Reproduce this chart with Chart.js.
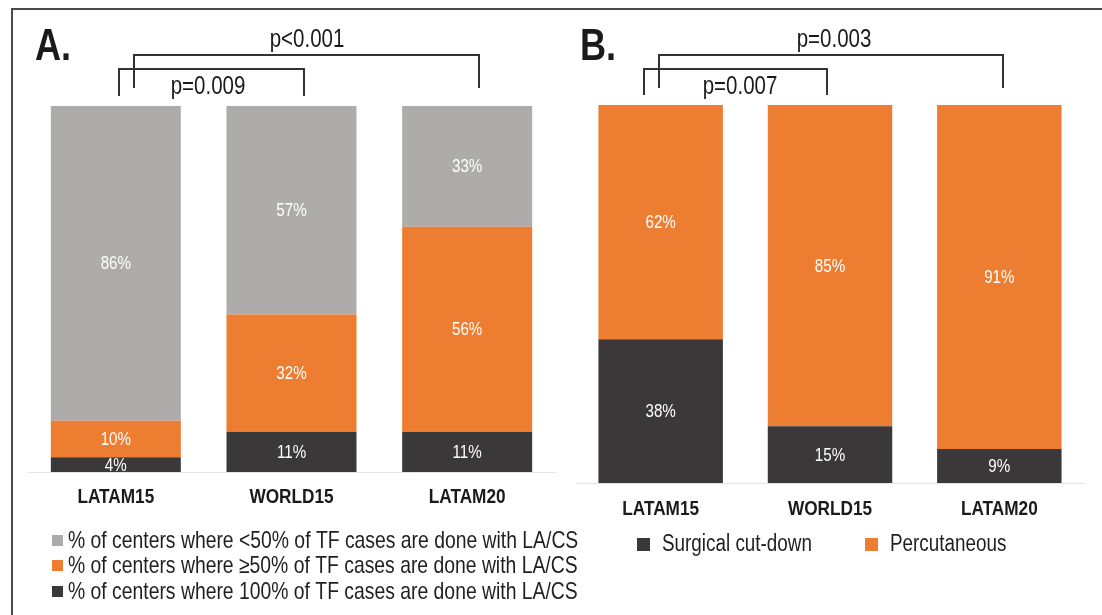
<!DOCTYPE html>
<html>
<head>
<meta charset="utf-8">
<script src="https://cdn.jsdelivr.net/npm/chart.js@4/dist/chart.umd.min.js"></script>
<style>
  body { margin: 0; background: #fff; }
  #wrap { position: relative; width: 1102px; height: 615px; overflow: hidden; }
  #frame { position: absolute; left: 11px; top: 8px; width: 1100px; height: 620px;
           border-top: 2px solid #4a4a4a; border-left: 2px solid #4a4a4a; }
  canvas { position: absolute; top: 0; }
  #chartA { left: 0; }
  #chartB { left: 560px; }
</style>
</head>
<body>
<div id="wrap">
  <div id="frame"></div>
  <canvas id="chartA" width="600" height="615"></canvas>
  <canvas id="chartB" width="542" height="615"></canvas>
</div>
<script>
// data
let Categories = ['LATAM15', 'WORLD15', 'LATAM20']

let LabelsA = [
    '% of centers where 100% of TF cases are done with LA/CS',
    '% of centers where \u226550% of TF cases are done with LA/CS',
    '% of centers where <50% of TF cases are done with LA/CS'
]
let FullLACS = [4, 11, 11]
let HalfLACS = [10, 32, 56]
let LessLACS = [86, 57, 33]
let PValuesA = ['p=0.009', 'p<0.001']

let LabelsB = ['Surgical cut-down', 'Percutaneous']
let Surgical = [38, 15, 9]
let Percutaneous = [62, 85, 91]
let PValuesB = ['p=0.007', 'p=0.003']

let Gray = '#aeabab'
let Orange = '#ed7d31'
let Dark = '#3a3838'
let Font = "'Liberation Sans', Arial, sans-serif"

// no narrow face installed, so squeeze Liberation Sans horizontally
function NarrowText(ctx, text, x, y, font, align, color) {
    ctx.save()
    ctx.font = font
    ctx.fillStyle = color
    ctx.textAlign = align
    ctx.textBaseline = 'middle'
    ctx.translate(x, y)
    ctx.scale(0.82, 1)
    ctx.fillText(text, 0, 0)
    ctx.restore()
}

// white % labels in the middle of every segment
let SegmentLabels = {
    id: 'segmentLabels',
    afterDatasetsDraw(chart) {
        let ctx = chart.ctx
        chart.data.datasets.forEach((ds, i) => {
            chart.getDatasetMeta(i).data.forEach((bar, j) => {
                NarrowText(ctx, ds.data[j] + '%', bar.x, (bar.y + bar.base) / 2 + 1, '18.5px ' + Font, 'center', '#ffffff')
            })
        })
    }
}

// category names, panel letter, significance brackets and legend
let Decorations = {
    id: 'decorations',
    afterDraw(chart, args, opts) {
        let ctx = chart.ctx
        let x = chart.scales.x
        chart.data.labels.forEach((lab, i) => {
            NarrowText(ctx, lab, x.getPixelForValue(i), opts.tickY, 'bold 21px ' + Font, 'center', '#1a1a1a')
        })

        NarrowText(ctx, opts.title, opts.titleX, opts.titleY, 'bold 44px ' + Font, 'left', '#1a1a1a')

        ctx.save()
        ctx.strokeStyle = '#333333'
        ctx.lineWidth = 2
        for (let b of opts.brackets) {
            let x1 = Math.round(x.getPixelForValue(b.from) + b.dx1)
            let x2 = Math.round(x.getPixelForValue(b.to) + b.dx2)
            ctx.beginPath()
            ctx.moveTo(x1, b.bottom1)
            ctx.lineTo(x1, b.top)
            ctx.lineTo(x2, b.top)
            ctx.lineTo(x2, b.bottom2)
            ctx.stroke()
            NarrowText(ctx, b.text, b.textX, b.textY, '25px ' + Font, 'center', '#1a1a1a')
        }
        ctx.restore()

        let items = chart.data.datasets.map(ds => ({ label: ds.label, color: ds.backgroundColor }))
        if (opts.legendReverse) items.reverse()
        items.forEach((it, i) => {
            let lx = opts.legendX[i], ly = opts.legendY[i]
            ctx.fillStyle = it.color
            ctx.fillRect(lx, Math.round(ly - opts.box / 2), opts.box, opts.box)
            NarrowText(ctx, it.label, lx + opts.box + opts.gap, ly + 1, opts.fontSize + 'px ' + Font, 'left', '#1f1f1f')
        })
    }
}

function BaseOptions(pad, barPct) {
    return {
        responsive: false,
        animation: false,
        layout: { padding: pad },
        plugins: { legend: { display: false }, tooltip: { enabled: false } },
        datasets: { bar: { categoryPercentage: 1, barPercentage: barPct } },
        scales: {
            x: {
                stacked: true,
                grid: { display: false, drawTicks: false },
                border: { display: true, color: '#e4e4e4', width: 1 },
                ticks: { display: false }
            },
            y: { stacked: true, min: 0, max: 100, display: false }
        }
    }
}

let OptionsA = BaseOptions({ left: 28, right: 45, top: 106, bottom: 143 }, 0.74)
OptionsA.plugins.decorations = {
    tickY: 497,
    title: 'A.', titleX: 35, titleY: 48,
    brackets: [
        { from: 0, to: 1, dx1: 3, dx2: 12, top: 69, bottom1: 96, bottom2: 96, text: PValuesA[0], textX: 208, textY: 87 },
        { from: 0, to: 2, dx1: 18, dx2: 12, top: 55, bottom1: 88, bottom2: 88, text: PValuesA[1], textX: 307, textY: 40 }
    ],
    legendReverse: true, legendX: [52, 52, 52], legendY: [540, 565.5, 591], box: 11, gap: 5, fontSize: 23.6
}

new Chart(document.getElementById('chartA'), {
    type: 'bar',
    data: {
        labels: Categories,
        datasets: [
            { label: LabelsA[0], data: FullLACS, backgroundColor: Dark },
            { label: LabelsA[1], data: HalfLACS, backgroundColor: Orange },
            { label: LabelsA[2], data: LessLACS, backgroundColor: Gray }
        ]
    },
    options: OptionsA,
    plugins: [SegmentLabels, Decorations]
})

let OptionsB = BaseOptions({ left: 16, right: 18, top: 105, bottom: 132 }, 0.735)
OptionsB.plugins.decorations = {
    tickY: 509,
    title: 'B.', titleX: 580 - 560, titleY: 48,
    brackets: [
        { from: 0, to: 1, dx1: -17, dx2: -3, top: 69, bottom1: 95, bottom2: 95, text: PValuesB[0], textX: 180, textY: 87 },
        { from: 0, to: 2, dx1: -2, dx2: 4, top: 55, bottom1: 88, bottom2: 88, text: PValuesB[1], textX: 274, textY: 40 }
    ],
    legendReverse: false, legendX: [77, 305], legendY: [544, 544], box: 13, gap: 12, fontSize: 23
}

new Chart(document.getElementById('chartB'), {
    type: 'bar',
    data: {
        labels: Categories,
        datasets: [
            { label: LabelsB[0], data: Surgical, backgroundColor: Dark },
            { label: LabelsB[1], data: Percutaneous, backgroundColor: Orange }
        ]
    },
    options: OptionsB,
    plugins: [SegmentLabels, Decorations]
})
</script>
</body>
</html>
